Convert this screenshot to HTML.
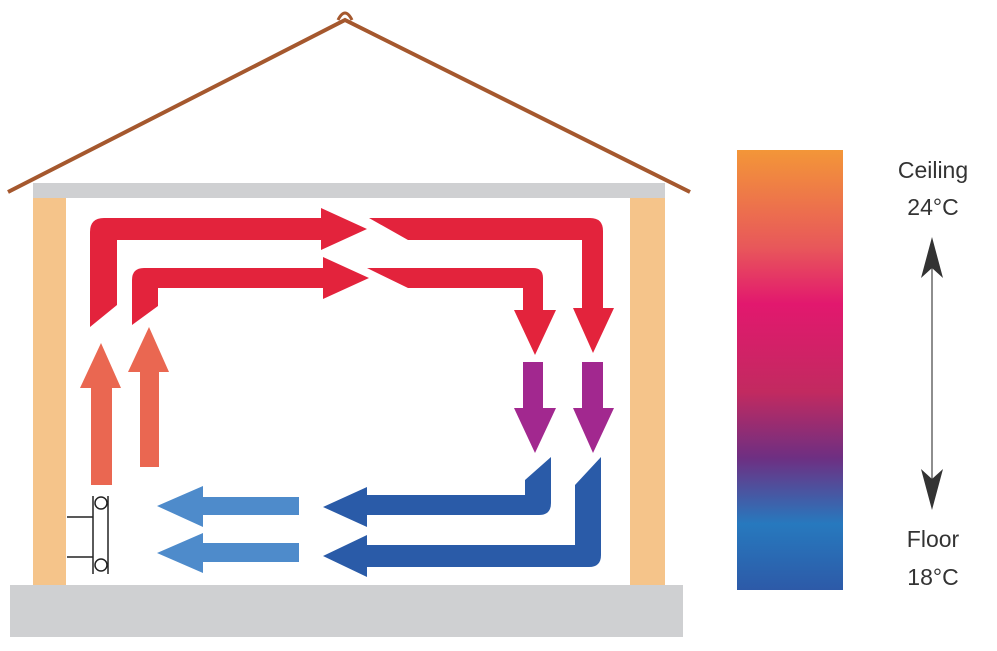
<!DOCTYPE html>
<html><head><meta charset="utf-8"><style>
html,body{margin:0;padding:0;background:#fff;}
svg{display:block;}
</style></head><body>
<svg width="997" height="651" viewBox="0 0 997 651" xmlns="http://www.w3.org/2000/svg">
<defs>
<linearGradient id="g" x1="0" y1="0" x2="0" y2="1">
<stop offset="0" stop-color="#f39638"/>
<stop offset="0.22" stop-color="#e8585a"/>
<stop offset="0.35" stop-color="#e2186e"/>
<stop offset="0.55" stop-color="#c22a60"/>
<stop offset="0.7" stop-color="#6e2f82"/>
<stop offset="0.85" stop-color="#2779be"/>
<stop offset="1" stop-color="#2d5aa8"/>
</linearGradient>
</defs>
<!-- roof -->
<polyline points="8,192 345,20 690,192" fill="none" stroke="#a5582e" stroke-width="4"/>
<path d="M338,20 Q345,6 352,20" fill="none" stroke="#a5582e" stroke-width="3"/>
<!-- structure -->
<rect x="33" y="183" width="632" height="15" fill="#cfd0d2"/>
<rect x="33" y="198" width="33" height="387" fill="#f5c48a"/>
<rect x="630" y="198" width="35" height="387" fill="#f5c48a"/>
<rect x="10" y="585" width="673" height="52" fill="#cfd0d2"/>
<!-- red -->
<g fill="#e3233c">
<path d="M90,327 L90,232 Q90,218 104,218 L321,218 L321,208 L367,229 L321,250 L321,240 L117,240 L117,305 Z"/>
<path d="M369,218 L590,218 Q603,218 603,231 L603,308 L614,308 L593,353 L573,308 L582,308 L582,240 L408,240 Z"/>
<path d="M132,325 L132,280 Q132,268 144,268 L323,268 L323,257 L369,278 L323,299 L323,288 L158,288 L158,306 Z"/>
<path d="M367,268 L533,268 Q543,268 543,278 L543,310 L556,310 L535,355 L514,310 L523,310 L523,288 L408,288 Z"/>
</g>
<!-- purple -->
<g fill="#a2288f">
<path d="M523,362 L543,362 L543,408 L556,408 L535,453 L514,408 L523,408 Z"/>
<path d="M582,362 L603,362 L603,408 L614,408 L593,453 L573,408 L582,408 Z"/>
</g>
<!-- orange -->
<g fill="#ea6751">
<path d="M91,485 L91,388 L80,388 L101,343 L121,388 L112,388 L112,485 Z"/>
<path d="M140,467 L140,372 L128,372 L149,327 L169,372 L159,372 L159,467 Z"/>
</g>
<!-- dark blue -->
<g fill="#2a5ba8">
<path d="M551,457 L551,503 Q551,515 539,515 L367,515 L367,527 L323,507 L367,487 L367,495 L525,495 L525,480 Z"/>
<path d="M601,457 L601,555 Q601,567 589,567 L367,567 L367,577 L323,556 L367,535 L367,545 L575,545 L575,485 Z"/>
</g>
<!-- light blue -->
<g fill="#4e8bcb">
<path d="M299,497 L203,497 L203,486 L157,506 L203,527 L203,515 L299,515 Z"/>
<path d="M299,543 L203,543 L203,533 L157,553 L203,573 L203,562 L299,562 Z"/>
</g>
<!-- radiator -->
<g fill="none" stroke="#222" stroke-width="1.5">
<line x1="93" y1="496" x2="93" y2="574"/>
<line x1="108" y1="496" x2="108" y2="574"/>
<line x1="67" y1="517" x2="93" y2="517"/>
<line x1="67" y1="557" x2="93" y2="557"/>
<circle cx="101" cy="503" r="6" fill="#fff"/>
<circle cx="101" cy="565" r="6" fill="#fff"/>
</g>
<!-- gradient bar -->
<rect x="737" y="150" width="106" height="440" fill="url(#g)"/>
<!-- scale -->
<g font-family="Liberation Sans, sans-serif" font-size="23" fill="#333" text-anchor="middle">
<text x="933" y="178">Ceiling</text>
<text x="933" y="215">24°C</text>
<text x="933" y="547">Floor</text>
<text x="933" y="585">18°C</text>
</g>
<line x1="932" y1="250" x2="932" y2="495" stroke="#444" stroke-width="1.2"/>
<path d="M932,237 L943,278 L932,268 L921,278 Z" fill="#333"/>
<path d="M932,510 L943,469 L932,479 L921,469 Z" fill="#333"/>
</svg>
</body></html>
